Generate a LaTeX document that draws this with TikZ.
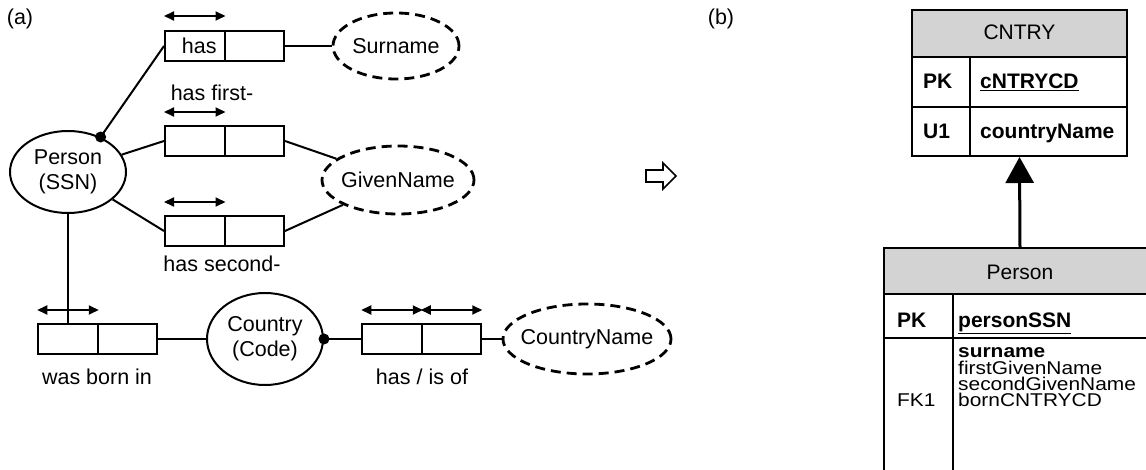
\documentclass[tikz,border=0pt]{standalone}
\usepackage{fontspec}
\setmainfont{Liberation Sans}
\usetikzlibrary{shapes.geometric,arrows.meta}
\definecolor{hdrgray}{RGB}{211,211,211}
\newcommand{\wideattr}[1]{\scalebox{1.13}[1]{#1}}
\begin{document}
\begin{tikzpicture}[x=1pt,y=-1pt,
  lbl/.style={font=\fontsize{21.5}{25}\selectfont, inner sep=0},
  cell/.style={draw, line width=2pt, minimum width=59.5pt, minimum height=30pt, inner sep=0, font=\fontsize{21.5}{25}\selectfont},
  ent/.style={ellipse, draw, line width=2pt, inner sep=0, align=center, font=\fontsize{21.5}{25}\selectfont},
  val/.style={ent, line width=2.8pt, dash pattern=on 10pt off 6pt},
  span/.style={{Triangle[length=10pt,width=9pt]}-{Triangle[length=10pt,width=9pt]}, line width=2pt},
  conn/.style={line width=2pt},
  dotnode/.style={circle, fill, inner sep=0, minimum size=11pt},
  tline/.style={line width=2pt},
  ttext/.style={font=\fontsize{21}{16.5}\selectfont, inner sep=0, anchor=base west},
  tattr/.style={font=\fontsize{18.5}{16.5}\selectfont, inner sep=0, anchor=base west},
  ttextc/.style={font=\fontsize{21}{16.5}\selectfont, inner sep=0, anchor=base},
]
\useasboundingbox (0,0) rectangle (1146,470);

% ---------- (a) ----------
\node[lbl] (la) at (20,19) {(a)};
\node[lbl] (lb) at (721,19) {(b)};

% fact type boxes
\node[cell] (b1l) at (194.75,46) {\hspace*{9pt}has};
\node[cell] (b1r) at (254.25,46) {};
\node[cell] (b2l) at (194.75,141) {};
\node[cell] (b2r) at (254.25,141) {};
\node[cell] (b3l) at (194.75,231) {};
\node[cell] (b3r) at (254.25,231) {};
\node[cell] (b4l) at (68,339) {};
\node[cell] (b4r) at (127.5,339) {};
\node[cell] (b5l) at (392,339) {};
\node[cell] (b5r) at (451.5,339) {};

% labels
\node[lbl] (t2) at (212,93) {has first-};
\node[lbl] (t3) at (222,264) {has second-};
\node[lbl] (t4) at (97,377) {was born in};
\node[lbl] (t5) at (422,377) {has / is of};

% uniqueness arrows
\draw[span] ([yshift=14pt]b1l.north west) -- ([yshift=14pt]b1l.north east);
\draw[span] ([yshift=13pt]b2l.north west) -- ([yshift=13pt]b2l.north east);
\draw[span] ([yshift=13pt]b3l.north west) -- ([yshift=13pt]b3l.north east);
\draw[span] ([yshift=13pt]b4l.north west) -- ([yshift=13pt]b4l.north east);
\draw[span] ([yshift=13pt]b5l.north west) -- ([yshift=13pt]b5l.north east);
\draw[span] ([yshift=13pt]b5r.north west) -- ([yshift=13pt]b5r.north east);

% object types
\node[ent, minimum width=116pt, minimum height=82pt] (person) at (68,172) {Person\\(SSN)};
\node[ent, minimum width=116pt, minimum height=92pt] (country) at (265,339) {Country\\(Code)};
\node[val, minimum width=126pt, minimum height=66pt] (sur) at (396,46) {Surname};
\node[val, minimum width=152pt, minimum height=68pt, inner xsep=-3.5pt] (gn) at (398,180) {GivenName};
\node[val, minimum width=168pt, minimum height=70pt, inner xsep=-7.5pt] (cn) at (587,339) {CountryName};

% mandatory dots
\node[dotnode] (d1) at (person.47) {};
\node[dotnode] (d2) at (country.east) {};

% connectors
\draw[conn] (d1.center) -- (b1l.west);
\draw[conn] (person) -- (b2l.west);
\draw[conn] (person) -- (b3l.west);
\draw[conn] (b1r.east) -- (sur.west);
\draw[conn] (b2r.east) -- (gn);
\draw[conn] (b3r.east) -- (gn);
\draw[conn] (person.south) -- (b4l.north);
\draw[conn] (b4r.east) -- (country.west);
\draw[conn] (d2.center) -- (b5l.west);
\draw[conn] (b5r.east) -- (cn.west);

% hollow arrow
\draw[line width=1.6pt, fill=white, line join=miter] (646,170) -- (663,170) -- (663,163) -- (676,176) -- (663,189) -- (663,182) -- (646,182) -- cycle;

% ---------- (b) CNTRY table ----------
\fill[hdrgray] (912,10) rectangle (1127,57);
\node[draw, line width=2pt, minimum width=215pt, minimum height=146pt, inner sep=0] (cntry) at (1019.5,83) {};
\draw[tline] (912,57) -- (1127,57);
\draw[tline] (912,107) -- (1127,107);
\draw[tline] (970,57) -- (970,156);
\node[ttextc] (cntryh) at (1019.5,40) {CNTRY};
\node[ttext] (cpk) at (923,89) {\bfseries PK};
\node[ttext] (ccd) at (980,89) {\bfseries\underline{cNTRYCD}};
\node[ttext] (cu1) at (923,139) {\bfseries U1};
\node[ttext] (cnm) at (980,139) {\bfseries countryName};

% ---------- Person table ----------
\begin{scope}
\clip (0,0) rectangle (1146,470);
\fill[hdrgray] (884,248) rectangle (1170,294);
\draw[tline] (1170,248) -- (884,248) -- (884,490);
\draw[tline] (884,294) -- (1170,294);
\draw[tline] (884,338) -- (1170,338);
\draw[tline] (953,294) -- (953,490);
\end{scope}
\node[minimum width=272pt, minimum height=46pt, inner sep=0] (personT) at (1020,271) {};
\node[ttextc] (ph) at (1020,280) {Person};
\node[ttext] (ppk) at (897,327) {\bfseries PK};
\node[ttext] (pssn) at (958,327) {\bfseries\underline{personSSN}};
\node[tattr] (pa1) at (958,357) {\wideattr{\bfseries surname}};
\node[tattr] (pa2) at (958,374) {\wideattr{firstGivenName}};
\node[tattr] (pa3) at (958,390) {\wideattr{secondGivenName}};
\node[tattr] (pa4) at (958,406) {\wideattr{bornCNTRYCD}};
\node[tattr] (pfk) at (897,406) {\wideattr{FK1}};

% reference arrow
\draw[line width=3pt, -{Triangle[length=26pt,width=28pt]}] (personT.north) -- (cntry.south);
\end{tikzpicture}
\end{document}
